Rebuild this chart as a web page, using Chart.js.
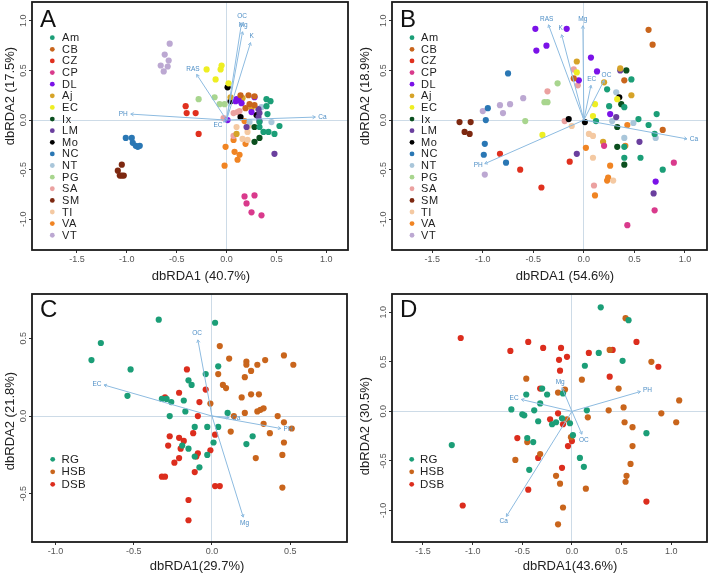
<!DOCTYPE html>
<html><head><meta charset="utf-8">
<script src="https://cdn.jsdelivr.net/npm/chart.js@4/dist/chart.umd.min.js"></script>
<style>
body{margin:0;background:#fff;width:709px;height:576px;position:relative;overflow:hidden;font-family:"Liberation Sans",Arial,sans-serif}
canvas{position:absolute}
</style></head><body>
<canvas id="cA" width="355" height="290" style="left:0;top:0"></canvas>
<canvas id="cB" width="354" height="290" style="left:355px;top:0"></canvas>
<canvas id="cC" width="355" height="286" style="left:0;top:290px"></canvas>
<canvas id="cD" width="354" height="286" style="left:355px;top:290px"></canvas>
<script>
// ---------- categories ----------
const siteNames = ['Am','CB','CZ','CP','DL','Aj','EC','Ix','LM','Mo','NC','NT','PG','SA','SM','TI','VA','VT'];
const siteColors = ['#1b9e77','#c9651c','#e0301e','#d93a8c','#7b12e8','#d6a328','#eeee22','#0b4f1f','#6a3f9e','#000000','#2a77b4','#a9c6da','#a8d58e','#eba1a0','#7d2810','#f4c9a2','#f08423','#bca8d2'];
const habitatNames = ['RG','HSB','DSB'];
const habitatColors = ['#1b9e77','#c9651c','#dc2d1d'];

// ---------- tick labels ----------
const ticksX_A = [-1.5,-1.0,-0.5,0.0,0.5,1.0];
const ticksY_A = [-1.0,-0.5,0.0,0.5,1.0];
const ticksX_B = [-1.5,-1.0,-0.5,0.0,0.5,1.0];
const ticksY_B = [-1.0,-0.5,0.0,0.5,1.0];
const ticksX_C = [-1.0,-0.5,0.0,0.5];
const ticksY_C = [-0.5,0.0,0.5];
const ticksX_D = [-1.5,-1.0,-0.5,0.0,0.5,1.0];
const ticksY_D = [-1.0,-0.5,0.0,0.5,1.0];

// ---------- panel A scores ----------
const A_Am = [[0.40,0.21],[0.44,0.19],[0.40,0.14],[0.41,0.06],[0.53,-0.06],[0.33,-0.07],[0.37,-0.12],[0.42,-0.12],[0.48,-0.14],[0.33,-0.02]];
const A_CB = [[0.14,0.25],[0.22,0.25],[0.28,0.24],[0.23,0.16],[0.28,0.15],[0.19,0.12]];
const A_CZ = [[-0.41,0.14],[-0.40,0.07],[-0.31,0.07],[-0.28,-0.14]];
const A_CP = [[0.18,-0.77],[0.28,-0.76],[0.20,-0.84],[0.25,-0.93],[0.35,-0.96]];
const A_DL = [[0.09,0.19],[0.12,0.20],[0.15,0.17],[0.10,0.21],[0.28,0.23],[0.25,0.08],[0.01,0.0]];
const A_Aj = [[0.04,0.23],[0.16,0.22],[0.25,0.12],[0.10,-0.14]];
const A_EC = [[-0.20,0.51],[-0.06,0.51],[-0.05,0.55],[-0.11,0.41],[0.02,0.37]];
const A_Ix = [[0.28,-0.07],[0.33,-0.18],[0.28,-0.22]];
const A_LM = [[0.32,0.11],[0.33,0.07],[0.32,0.03],[0.33,-0.01],[0.20,-0.07],[0.48,-0.34]];
const A_Mo = [[0.01,0.33],[0.04,0.19],[0.14,0.03],[0.30,0.05]];
const A_NC = [[-1.01,-0.18],[-0.95,-0.18],[-0.94,-0.23],[-0.91,-0.26],[-0.89,-0.27],[-0.87,-0.26]];
const A_NT = [[0.23,-0.02],[0.45,-0.02],[0.35,0.13]];
const A_PG = [[-0.28,0.21],[-0.12,0.23],[-0.07,0.16],[-0.02,0.16]];
const A_SA = [[-0.03,0.02],[0.07,0.07],[0.11,0.08],[0.13,0.09],[0.07,-0.16]];
const A_SM = [[-1.05,-0.45],[-1.09,-0.51],[-1.07,-0.56],[-1.05,-0.56],[-1.03,-0.56]];
const A_TI = [[0.10,-0.07],[0.16,-0.19],[0.21,-0.20],[0.21,-0.12],[0.22,-0.06]];
const A_VA = [[0.07,-0.20],[0.19,-0.24],[-0.01,-0.27],[0.08,-0.32],[0.13,-0.35],[0.11,-0.40],[-0.02,-0.46],[0.18,-0.01]];
const A_VT = [[-0.57,0.77],[-0.62,0.66],[-0.58,0.60],[-0.66,0.55],[-0.59,0.54],[-0.63,0.49]];
const A_vecNames = ['OC','Mg','K','RAS','PH','Ca','EC'];
const A_vecX = [0.15,0.16,0.24,-0.30,-0.96,0.89,-0.03];
const A_vecY = [0.98,0.89,0.78,0.46,0.06,0.03,-0.02];

// ---------- panel B scores ----------
const B_Am = [[0.23,0.31],[0.25,0.14],[0.40,0.13],[0.47,0.41],[0.12,-0.01],[0.54,0.01],[0.64,-0.05],[0.70,-0.14],[0.40,-0.27],[0.40,-0.38],[0.56,-0.38],[0.78,-0.50],[0.72,0.06]];
const B_CB = [[0.64,0.91],[0.68,0.76],[0.40,0.40],[-0.10,0.42],[0.78,-0.10]];
const B_CZ = [[-0.83,-0.34],[-0.63,-0.50],[-0.42,-0.68],[-0.14,-0.42]];
const B_CP = [[0.20,-0.26],[0.89,-0.43],[0.70,-0.91],[0.43,-1.06]];
const B_DL = [[-0.48,0.92],[-0.17,0.92],[-0.37,0.75],[-0.47,0.70],[0.07,0.63],[0.13,0.49],[-0.05,0.40],[0.26,0.06],[0.71,-0.62]];
const B_Aj = [[-0.07,0.59],[0.36,0.52],[0.47,0.25],[0.20,0.38],[0.19,-0.22]];
const B_EC = [[-0.07,0.48],[0.11,0.16],[0.09,0.04],[0.33,0.21],[-0.41,-0.15]];
const B_Ix = [[0.42,0.50],[0.37,0.16],[0.33,-0.07],[0.33,-0.27],[0.40,-0.45]];
const B_LM = [[0.36,0.50],[0.32,0.03],[0.55,-0.22],[-0.07,-0.34],[0.69,-0.74]];
const B_Mo = [[-0.15,0.01],[0.01,-0.02],[0.35,0.23]];
const B_NC = [[-0.75,0.47],[-0.95,0.12],[-0.97,0.0],[-0.98,-0.24],[-0.99,-0.35],[-0.77,-0.43]];
const B_NT = [[0.32,0.28],[0.28,-0.01],[0.49,-0.03],[0.40,-0.18],[0.71,-0.18]];
const B_PG = [[-0.26,0.37],[-0.39,0.18],[-0.36,0.18],[-0.58,-0.01]];
const B_SA = [[-0.10,0.51],[-0.06,0.35],[-0.36,0.29],[-0.19,-0.01],[0.10,-0.66]];
const B_SM = [[-1.23,-0.02],[-1.12,-0.02],[-1.18,-0.12],[-1.13,-0.14]];
const B_TI = [[-0.12,-0.06],[0.05,-0.14],[0.09,-0.16],[0.09,-0.38],[0.29,-0.61]];
const B_VA = [[0.02,-0.28],[0.26,-0.46],[0.23,-0.61],[0.24,-0.58],[0.11,-0.76],[0.41,-0.26],[0.43,-0.05]];
const B_VT = [[-0.60,0.22],[-0.73,0.16],[-0.83,0.15],[-0.80,0.07],[-1.00,0.09],[-0.98,-0.55]];
const B_vecNames = ['RAS','K','Mg','EC','OC','Ca','PH'];
const B_vecX = [-0.35,-0.22,-0.01,0.07,0.20,1.02,-0.98];
const B_vecY = [0.96,0.86,0.95,0.35,0.40,-0.19,-0.44];

// ---------- panel C scores ----------
const C_RG = [[-0.34,0.62],[0.02,0.60],[-0.71,0.47],[-0.77,0.36],[-0.52,0.30],[-0.54,0.13],[-0.15,0.23],[-0.13,0.20],[-0.04,0.27],[0.04,0.32],[-0.18,0.10],[-0.17,0.03],[-0.32,0.11],[-0.29,0.11],[-0.26,0.09],[-0.27,0.00],[0.10,0.02],[-0.11,-0.07],[-0.03,-0.07],[0.04,-0.07],[0.01,-0.17],[-0.19,-0.19],[-0.15,-0.21],[-0.11,-0.26],[-0.03,-0.25],[-0.08,-0.33],[0.22,-0.18],[0.26,-0.13]];
const C_HSB = [[0.05,0.45],[0.11,0.37],[0.22,0.35],[0.22,0.33],[0.29,0.33],[0.34,0.36],[0.46,0.39],[0.52,0.33],[0.25,0.29],[0.21,0.25],[0.04,0.27],[0.07,0.20],[0.09,0.18],[0.19,0.12],[0.25,0.14],[0.30,0.14],[0.21,0.02],[0.29,0.03],[0.31,0.04],[0.33,0.05],[-0.01,0.08],[0.14,0.00],[0.42,0.00],[0.46,-0.04],[0.33,-0.05],[0.51,-0.08],[0.12,-0.10],[0.37,-0.11],[0.46,-0.17],[0.45,-0.25],[0.28,-0.27],[0.45,-0.46]];
const C_DSB = [[-0.16,0.30],[-0.21,0.15],[-0.30,0.12],[-0.08,0.09],[-0.04,0.17],[-0.09,0.00],[-0.12,-0.11],[-0.27,-0.13],[-0.21,-0.14],[-0.18,-0.16],[-0.28,-0.19],[-0.20,-0.21],[-0.21,-0.27],[-0.24,-0.30],[-0.09,-0.24],[-0.10,-0.26],[-0.11,-0.36],[-0.01,-0.22],[0.02,-0.12],[-0.32,-0.39],[-0.30,-0.39],[0.02,-0.45],[0.05,-0.45],[-0.15,-0.54],[-0.15,-0.67]];
const C_vecNames = ['OC','EC','Mg','PH','Ca'];
const C_vecX = [-0.09,-0.69,0.20,0.44,0.11];
const C_vecY = [0.49,0.20,-0.65,-0.08,-0.01];

// ---------- panel D scores ----------
const D_RG = [[0.29,1.05],[0.57,0.92],[0.27,0.59],[0.51,0.51],[0.13,0.46],[-0.09,0.18],[-0.25,0.17],[-0.46,0.17],[-0.30,0.23],[-0.32,0.08],[-0.61,0.02],[-0.50,-0.03],[-0.48,-0.04],[-0.38,0.01],[-0.34,-0.10],[-0.20,-0.13],[-0.16,-0.11],[-0.10,-0.07],[-0.02,-0.12],[0.01,-0.24],[0.15,0.01],[-0.45,-0.27],[-0.39,-0.31],[-0.43,-0.59],[0.08,-0.47],[0.12,-0.56],[0.75,-0.22],[-1.21,-0.34]];
const D_HSB = [[0.54,0.94],[0.38,0.62],[0.80,0.50],[0.47,0.23],[0.10,0.32],[-0.46,0.33],[-0.14,0.19],[-0.07,0.22],[0.37,0.01],[0.52,0.04],[0.16,-0.06],[-0.05,-0.08],[-0.01,-0.26],[-0.45,-0.31],[-0.32,-0.43],[-0.57,-0.49],[-0.16,-0.65],[-0.12,-0.73],[0.14,-0.78],[-0.09,-0.97],[-0.14,-1.14],[0.53,-0.11],[0.61,-0.16],[0.61,-0.35],[0.59,-0.53],[0.55,-0.65],[0.54,-0.71],[0.90,-0.02],[1.08,0.11],[1.05,-0.11]];
const D_DSB = [[-1.12,0.74],[-0.62,0.61],[-0.44,0.70],[-0.29,0.64],[-0.11,0.64],[-0.05,0.55],[-0.13,0.52],[-0.12,0.41],[0.17,0.59],[0.41,0.62],[0.65,0.70],[0.87,0.45],[0.38,0.35],[-0.32,0.23],[-0.14,-0.02],[-0.22,-0.08],[-0.09,-0.13],[-0.55,-0.27],[-0.04,-0.35],[0.00,-0.30],[-0.34,-0.47],[-0.10,-0.57],[-0.44,-0.79],[0.75,-0.91],[-1.10,-0.95]];
const D_vecNames = ['Mg','EC','PH','OC','Ca'];
const D_vecX = [-0.10,-0.51,0.69,0.10,-0.66];
const D_vecY = [0.24,0.12,0.20,-0.23,-1.06];

// ---------- drawing ----------
const FONT = '"Liberation Sans", Arial, sans-serif';
const ARROW_COLOR = '#8dbbe0';
const ARROW_TEXT = '#4f8fc6';
const ZERO_COLOR = '#cddbe7';

function makePanel(canvasId, P) {
  const datasets = [];
  P.groupNames.forEach((name, i) => {
    datasets.push({
      label: name, isGroup: true, order: 2,
      data: P.groupData[i].map(p => ({x: p[0], y: p[1]})),
      backgroundColor: P.groupColors[i], borderColor: P.groupColors[i],
      borderWidth: 0, pointRadius: 3.1, pointHoverRadius: 3.1
    });
  });
  P.vecNames.forEach((name, i) => {
    datasets.push({
      label: name, isArrow: true, order: 1, showLine: true,
      data: [{x: 0, y: 0}, {x: P.vecX[i], y: P.vecY[i]}],
      borderColor: ARROW_COLOR, borderWidth: 1, pointRadius: 0, pointHoverRadius: 0
    });
  });

  const gridCfg = {
    display: true, drawOnChartArea: true, drawTicks: true, tickLength: 3,
    color: c => (c.tick && Math.abs(c.tick.value) < 1e-9) ? ZERO_COLOR : 'rgba(0,0,0,0)',
    tickColor: '#333', lineWidth: 1
  };

  const panelPlugin = {
    id: 'panel' + canvasId,
    afterDatasetsDraw(chart) {
      const ctx = chart.ctx;
      ctx.save();
      chart.data.datasets.forEach((ds, i) => {
        if (!ds.isArrow) return;
        const meta = chart.getDatasetMeta(i);
        const p0 = meta.data[0], p1 = meta.data[1];
        const dx = p1.x - p0.x, dy = p1.y - p0.y;
        const len = Math.hypot(dx, dy) || 1;
        const ux = dx / len, uy = dy / len;
        const ang = Math.atan2(dy, dx);
        const h = 3.2, a = Math.PI / 6;
        ctx.strokeStyle = ARROW_COLOR; ctx.lineWidth = 1;
        ctx.beginPath();
        ctx.moveTo(p1.x - h * Math.cos(ang - a), p1.y - h * Math.sin(ang - a));
        ctx.lineTo(p1.x, p1.y);
        ctx.lineTo(p1.x - h * Math.cos(ang + a), p1.y - h * Math.sin(ang + a));
        ctx.stroke();
        ctx.font = '6.5px ' + FONT;
        ctx.fillStyle = ARROW_TEXT;
        ctx.textAlign = 'center'; ctx.textBaseline = 'middle';
        const w = ctx.measureText(ds.label).width;
        const tx = p1.x + ux * (3 + w / 2 * Math.abs(ux)) ;
        const ty = p1.y + uy * (3 + 3.5 * Math.abs(uy));
        ctx.fillText(ds.label, tx, ty);
      });
      ctx.restore();
    },
    afterDraw(chart) {
      const ctx = chart.ctx, ca = chart.chartArea;
      const ys = chart.scales.y;
      ctx.save();
      // frame
      ctx.strokeStyle = '#1a1a1a'; ctx.lineWidth = 1.8;
      ctx.strokeRect(ca.left, ca.top, ca.right - ca.left, ca.bottom - ca.top);
      // y tick labels (rotated)
      ctx.fillStyle = '#555'; ctx.font = '9px ' + FONT;
      ctx.textAlign = 'center'; ctx.textBaseline = 'middle';
      ys.ticks.forEach(t => {
        const y = ys.getPixelForValue(t.value);
        ctx.save();
        ctx.translate(ca.left - 8, y);
        ctx.rotate(-Math.PI / 2);
        ctx.fillText(t.value.toFixed(1), 0, 0);
        ctx.restore();
      });
      // axis titles
      ctx.fillStyle = '#222'; ctx.font = '13px ' + FONT;
      ctx.fillText(P.xTitle, P.xTitlePos[0], P.xTitlePos[1]);
      ctx.save();
      ctx.translate(P.yTitlePos[0], P.yTitlePos[1]);
      ctx.rotate(-Math.PI / 2);
      ctx.fillText(P.yTitle, 0, 0);
      ctx.restore();
      // panel letter
      ctx.fillStyle = '#111'; ctx.font = '24px ' + FONT;
      ctx.textAlign = 'left'; ctx.textBaseline = 'alphabetic';
      ctx.fillText(P.letter, ca.left + 8, ca.top + P.letterBase);
      // legend
      let k = 0;
      ctx.font = P.legendFont + 'px ' + FONT;
      ctx.textBaseline = 'middle';
      try { ctx.letterSpacing = P.legendSpacing; } catch (e) {}
      chart.data.datasets.forEach(ds => {
        if (!ds.isGroup) return;
        const y = P.legendY0 + k * P.legendDy;
        ctx.fillStyle = ds.backgroundColor;
        ctx.beginPath(); ctx.arc(P.legendDotX, y, 2.4, 0, Math.PI * 2); ctx.fill();
        ctx.fillStyle = '#222';
        ctx.fillText(ds.label, P.legendTextX, y + 0.5);
        k++;
      });
      ctx.restore();
    }
  };

  new Chart(document.getElementById(canvasId), {
    type: 'scatter',
    data: {datasets},
    options: {
      responsive: false, animation: false, events: [],
      layout: {autoPadding: false, padding: {left: 0, top: P.area.top, right: P.area.right, bottom: 0}},
      plugins: {legend: {display: false}, tooltip: {enabled: false}},
      scales: {
        x: {
          type: 'linear', min: P.xRange[0], max: P.xRange[1],
          afterBuildTicks: s => { s.ticks = P.ticksX.map(v => ({value: v})); },
          afterFit: s => { s.height = P.area.xh; },
          ticks: {color: '#555', font: {size: 9, family: FONT}, padding: 1, maxRotation: 0, autoSkip: false,
                  callback: v => Number(v).toFixed(1)},
          grid: gridCfg, border: {display: false}
        },
        y: {
          type: 'linear', min: P.yRange[0], max: P.yRange[1],
          afterBuildTicks: s => { s.ticks = P.ticksY.map(v => ({value: v})); },
          afterFit: s => { s.width = P.area.left; },
          ticks: {display: false},
          grid: gridCfg, border: {display: false}
        }
      }
    },
    plugins: [panelPlugin]
  });
}

makePanel('cA', {
  groupNames: siteNames, groupColors: siteColors,
  groupData: [A_Am,A_CB,A_CZ,A_CP,A_DL,A_Aj,A_EC,A_Ix,A_LM,A_Mo,A_NC,A_NT,A_PG,A_SA,A_SM,A_TI,A_VA,A_VT],
  vecNames: A_vecNames, vecX: A_vecX, vecY: A_vecY,
  xRange: [-1.95, 1.217], yRange: [-1.31, 1.19], ticksX: ticksX_A, ticksY: ticksY_A,
  area: {left: 32, top: 2, right: 7, xh: 40},
  xTitle: 'dbRDA1 (40.7%)', xTitlePos: [201, 276], yTitle: 'dbRDA2 (17.5%)', yTitlePos: [10, 96],
  letter: 'A', letterBase: 25,
  legendDotX: 52.3, legendTextX: 62, legendY0: 37.7, legendDy: 11.62, legendFont: 11, legendSpacing: '0.6px'
});
makePanel('cB', {
  groupNames: siteNames, groupColors: siteColors,
  groupData: [B_Am,B_CB,B_CZ,B_CP,B_DL,B_Aj,B_EC,B_Ix,B_LM,B_Mo,B_NC,B_NT,B_PG,B_SA,B_SM,B_TI,B_VA,B_VT],
  vecNames: B_vecNames, vecX: B_vecX, vecY: B_vecY,
  xRange: [-1.898, 1.218], yRange: [-1.31, 1.19], ticksX: ticksX_B, ticksY: ticksY_B,
  area: {left: 37, top: 2, right: 2, xh: 40},
  xTitle: 'dbRDA1 (54.6%)', xTitlePos: [210, 276], yTitle: 'dbRDA2 (18.9%)', yTitlePos: [10, 96],
  letter: 'B', letterBase: 25,
  legendDotX: 57, legendTextX: 66, legendY0: 37.7, legendDy: 11.62, legendFont: 11, legendSpacing: '0.6px'
});
makePanel('cC', {
  groupNames: habitatNames, groupColors: habitatColors,
  groupData: [C_RG, C_HSB, C_DSB],
  vecNames: C_vecNames, vecX: C_vecX, vecY: C_vecY,
  xRange: [-1.15, 0.863], yRange: [-0.81, 0.785], ticksX: ticksX_C, ticksY: ticksY_C,
  area: {left: 32, top: 4, right: 8, xh: 34},
  xTitle: 'dbRDA1(29.7%)', xTitlePos: [197, 276.5], yTitle: 'dbRDA2 (21.8%)', yTitlePos: [10, 131],
  letter: 'C', letterBase: 23,
  legendDotX: 52.7, legendTextX: 61.5, legendY0: 169.3, legendDy: 12.5, legendFont: 11.5, legendSpacing: '0.3px'
});
makePanel('cD', {
  groupNames: habitatNames, groupColors: habitatColors,
  groupData: [D_RG, D_HSB, D_DSB],
  vecNames: D_vecNames, vecX: D_vecX, vecY: D_vecY,
  xRange: [-1.812, 1.36], yRange: [-1.318, 1.184], ticksX: ticksX_D, ticksY: ticksY_D,
  area: {left: 37, top: 4, right: 2, xh: 34},
  xTitle: 'dbRDA1(43.6%)', xTitlePos: [215, 276.5], yTitle: 'dbRDA2 (30.5%)', yTitlePos: [10, 136],
  letter: 'D', letterBase: 23,
  legendDotX: 56.7, legendTextX: 65, legendY0: 169.3, legendDy: 12.5, legendFont: 11.5, legendSpacing: '0.3px'
});
</script>
</body></html>
